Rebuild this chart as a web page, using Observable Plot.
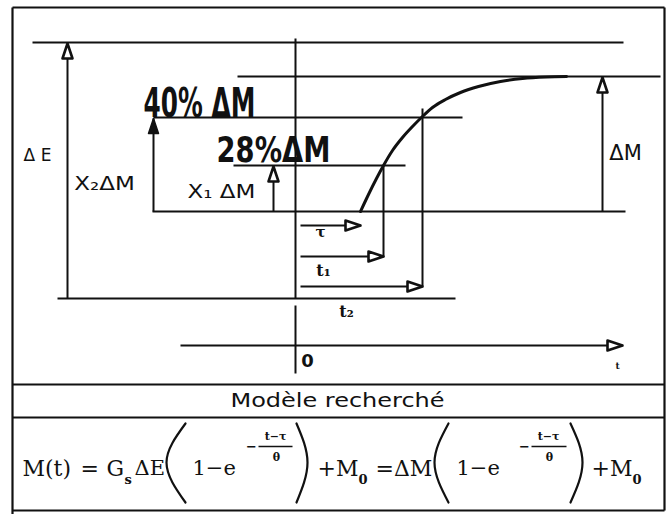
<!DOCTYPE html>
<html>
<head>
<meta charset="utf-8">
<script src="https://cdn.jsdelivr.net/npm/d3@7"></script>
<script src="https://cdn.jsdelivr.net/npm/@observablehq/plot@0.6"></script>
<style>
  body { margin: 0; background: #fff; }
  #chart svg { display: block; }
</style>
</head>
<body>
<div id="chart"></div>
<script>
// Broïda identification diagram: step ΔE on the input, delayed first-order
// response ΔM, with the 28 % and 40 % reading points giving t1 and t2.

// Frame of the figure and its two lower bands (title band, model band)
const frameLines = [
  {x1: 12,  y1: 7,   x2: 664, y2: 7},
  {x1: 12,  y1: 7,   x2: 12,  y2: 514},
  {x1: 664, y1: 7,   x2: 664, y2: 510},
  {x1: 12,  y1: 384, x2: 664, y2: 384},
  {x1: 12,  y1: 417, x2: 664, y2: 417},
  {x1: 12,  y1: 510, x2: 664, y2: 510}
];

// Level lines (input step, final value, 40 %, 28 %, initial value, input base)
const levelLines = [
  {x1: 32,  x2: 623, y: 42},
  {x1: 237, x2: 660, y: 76},
  {x1: 153, x2: 462, y: 117},
  {x1: 233, x2: 405, y: 165},
  {x1: 152, x2: 625, y: 211},
  {x1: 57,  x2: 455, y: 298}
];

// Vertical guides: origin axis (broken) and the drops from the reading points
const guideLines = [
  {x: 295, y1: 38,  y2: 298},
  {x: 295, y1: 305, y2: 373},
  {x: 383, y1: 165, y2: 256},
  {x: 422, y1: 108, y2: 286}
];

// Dimension arrows (tail → tip)
const arrows = [
  {name: "ΔE",  x1: 67,  y1: 298, x2: 67,  y2: 43,  head: "open"},
  {name: "X2",  x1: 153, y1: 211, x2: 153, y2: 118, head: "solid"},
  {name: "X1",  x1: 273, y1: 211, x2: 273, y2: 166, head: "open"},
  {name: "ΔM",  x1: 602, y1: 211, x2: 602, y2: 77,  head: "open"},
  {name: "tau", x1: 300, y1: 225, x2: 360, y2: 225, head: "open"},
  {name: "t1",  x1: 300, y1: 256, x2: 383, y2: 256, head: "open"},
  {name: "t2",  x1: 300, y1: 286, x2: 422, y2: 286, head: "open"},
  {name: "t",   x1: 180, y1: 345, x2: 622, y2: 345, head: "open"}
];

// Measured response M(t), from the end of the dead time to the final value
const responseX = [360, 368, 376, 383, 392, 402, 412, 422, 432, 445, 460, 478, 500, 522, 546, 566];
const responseY = [211, 194, 178, 165, 150, 137, 126, 116, 107, 99,  92,  86,  81,  78,  76.5, 76];

// Diagram labels
const sansLabels = [
  {text: "Δ E",   x: 37,  y: 155, size: 17},
  {text: "X₂ΔM",  x: 104, y: 183, size: 20},
  {text: "X₁ ΔM", x: 221, y: 191, size: 20},
  {text: "ΔM",    x: 625, y: 153, size: 21},
  {text: "Modèle recherché", x: 337, y: 400, size: 20}
];
const handLabels = [
  {text: "40% ΔM", x: 199, y: 104, size: 40},
  {text: "28%ΔM",  x: 273, y: 150, size: 36}
];
const timeLabels = [
  {text: "τ",  x: 320, y: 232, size: 15},
  {text: "t₁", x: 323, y: 270, size: 16},
  {text: "t₂", x: 346, y: 311, size: 16},
  {text: "t",  x: 617, y: 366, size: 9}
];
const originLabel = [{text: "0", x: 307, y: 361, size: 18}];

// Model: M(t) = Gs ΔE (1 − e^(−(t−τ)/θ)) + M0 = ΔM (1 − e^(−(t−τ)/θ)) + M0
const formulaText = [
  {text: "M(t)", x: 22,  y: 468, size: 22},
  {text: "=",    x: 80,  y: 468, size: 22},
  {text: "G",    x: 106, y: 468, size: 22},
  {text: "ΔE",   x: 134, y: 468, size: 21},
  {text: "1−e",  x: 192, y: 468, size: 21},
  {text: "+M",   x: 317, y: 468, size: 22},
  {text: "=ΔM",  x: 375, y: 468, size: 22},
  {text: "1−e",  x: 456, y: 468, size: 21},
  {text: "+M",   x: 591, y: 468, size: 22}
];
const formulaSubscripts = [
  {text: "s", x: 124, y: 479, size: 13},
  {text: "0", x: 358, y: 479, size: 13},
  {text: "0", x: 632, y: 479, size: 13}
];
const exponentParts = [
  {text: "−",   x: 251, y: 446, size: 13},
  {text: "t−τ", x: 275, y: 436, size: 11},
  {text: "θ",   x: 276, y: 457, size: 11},
  {text: "−",   x: 524, y: 446, size: 13},
  {text: "t−τ", x: 548, y: 436, size: 11},
  {text: "θ",   x: 549, y: 457, size: 11}
];
const fractionBars = [
  {x1: 258, x2: 292, y: 446},
  {x1: 531, x2: 566, y: 446}
];
// Tall brackets around (1 − e^…): top, bulge, bottom
const bracketPoints = [
  {id: "a", x: 185, y: 423}, {id: "a", x: 166, y: 462}, {id: "a", x: 185, y: 502},
  {id: "b", x: 296, y: 423}, {id: "b", x: 307, y: 462}, {id: "b", x: 296, y: 502},
  {id: "c", x: 448, y: 423}, {id: "c", x: 434, y: 462}, {id: "c", x: 448, y: 502},
  {id: "d", x: 570, y: 423}, {id: "d", x: 582, y: 462}, {id: "d", x: 570, y: 502}
];

// Horizontal stretch of some lettering (wide geometric sans, narrow hand lettering)
const stretch = new Map([
  ["40% ΔM", 0.62], ["28%ΔM", 0.76],
  ["X₂ΔM", 1.15], ["X₁ ΔM", 1.15], ["Modèle recherché", 1.2]
]);

// Arrowhead outline from an arrow's direction (closed triangle)
function arrowHead(a) {
  const dx = a.x2 - a.x1, dy = a.y2 - a.y1, len = Math.hypot(dx, dy);
  const ux = dx / len, uy = dy / len, L = 15, w = 5;
  const bx = a.x2 - ux * L, by = a.y2 - uy * L;
  return [
    {id: a.name, head: a.head, x: a.x2, y: a.y2},
    {id: a.name, head: a.head, x: bx - uy * w, y: by + ux * w},
    {id: a.name, head: a.head, x: bx + uy * w, y: by - ux * w},
    {id: a.name, head: a.head, x: a.x2, y: a.y2}
  ];
}
const heads = arrows.flatMap(arrowHead);
const response = responseX.map((x, i) => ({x, y: responseY[i]}));

const sans = "DejaVu Sans, sans-serif";
const serif = "DejaVu Serif, serif";
const ink = "#111";

const chart = Plot.plot({
  width: 669,
  height: 514,
  margin: 0,
  x: {domain: [0, 669], range: [0, 669], axis: null},
  y: {domain: [0, 514], range: [0, 514], axis: null},
  marks: [
    Plot.link(frameLines, {x1: "x1", y1: "y1", x2: "x2", y2: "y2", stroke: ink, strokeWidth: 2.2}),
    Plot.link(levelLines, {x1: "x1", x2: "x2", y1: "y", y2: "y", stroke: ink, strokeWidth: 2.2}),
    Plot.link(guideLines, {x1: "x", x2: "x", y1: "y1", y2: "y2", stroke: ink, strokeWidth: 2}),
    Plot.link(arrows, {x1: "x1", y1: "y1", x2: "x2", y2: "y2", stroke: ink, strokeWidth: 2}),
    Plot.line(heads.filter(d => d.head === "open"), {x: "x", y: "y", z: "id", fill: "white", stroke: ink, strokeWidth: 2.6, strokeLinejoin: "round"}),
    Plot.line(heads.filter(d => d.head === "solid"), {x: "x", y: "y", z: "id", fill: ink, stroke: ink, strokeWidth: 1.5}),
    Plot.line(response, {x: "x", y: "y", curve: "monotone-x", stroke: ink, strokeWidth: 3}),
    Plot.text(sansLabels, {x: "x", y: "y", text: "text", fontSize: "size", fontFamily: sans, fill: ink, textAnchor: "middle", lineAnchor: "middle"}),
    Plot.text(handLabels, {x: "x", y: "y", text: "text", fontSize: "size", fontFamily: sans, fontWeight: "bold", fill: ink, textAnchor: "middle", lineAnchor: "middle"}),
    Plot.text(timeLabels, {x: "x", y: "y", text: "text", fontSize: "size", fontFamily: serif, fontWeight: "bold", fill: ink, textAnchor: "middle", lineAnchor: "middle"}),
    Plot.text(originLabel, {x: "x", y: "y", text: "text", fontSize: "size", fontFamily: sans, fontWeight: "bold", fill: ink, textAnchor: "middle", lineAnchor: "middle"}),
    Plot.text(formulaText, {x: "x", y: "y", text: "text", fontSize: "size", fontFamily: serif, fill: ink, textAnchor: "start", lineAnchor: "middle"}),
    Plot.text(formulaSubscripts, {x: "x", y: "y", text: "text", fontSize: "size", fontFamily: serif, fontWeight: "bold", fill: ink, textAnchor: "start", lineAnchor: "middle"}),
    Plot.text(exponentParts, {x: "x", y: "y", text: "text", fontSize: "size", fontFamily: serif, fontWeight: "bold", fill: ink, textAnchor: "middle", lineAnchor: "middle"}),
    Plot.link(fractionBars, {x1: "x1", x2: "x2", y1: "y", y2: "y", stroke: ink, strokeWidth: 1.6}),
    Plot.line(bracketPoints, {x: "x", y: "y", z: "id", curve: "natural", stroke: ink, strokeWidth: 2.2})
  ]
});

chart.querySelectorAll("text").forEach(t => {
  const s = stretch.get(t.textContent);
  if (s) t.setAttribute("transform", (t.getAttribute("transform") || "") + ` scale(${s},1)`);
});

document.getElementById("chart").appendChild(chart);
</script>
</body>
</html>
